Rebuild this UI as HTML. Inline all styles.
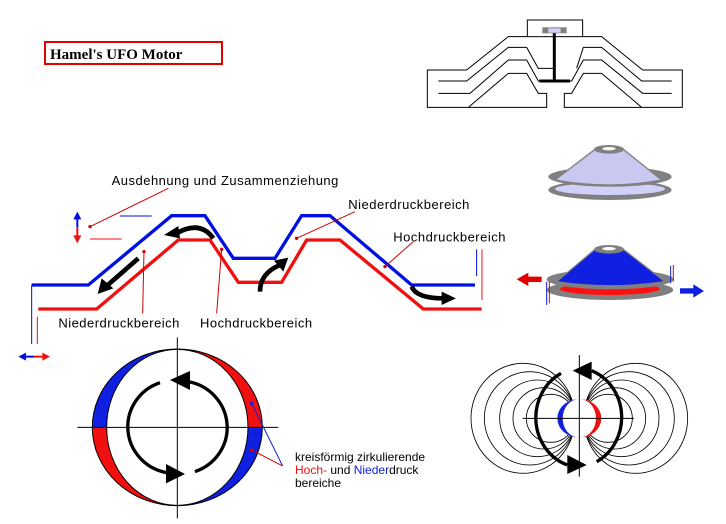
<!DOCTYPE html>
<html><head><meta charset="utf-8"><style>
html,body{margin:0;padding:0;background:#fff;}
svg{display:block;}
.t{font-family:"Liberation Sans",sans-serif;font-size:39px;letter-spacing:1.5px;fill:#000;}
.u{font-family:"Liberation Sans",sans-serif;font-size:12px;fill:#000;}
</style></head><body>
<svg width="726" height="524" viewBox="0 0 726 524" xmlns="http://www.w3.org/2000/svg">
<!-- title -->
<rect x="45" y="42" width="177" height="22" fill="none" stroke="#e00000" stroke-width="2"/>
<text x="50" y="59" font-family="'Liberation Serif',serif" font-weight="bold" font-size="15" fill="#000">Hamel's UFO Motor</text>

<!-- top right device -->
<g transform="translate(420,10) scale(0.3333)" fill="none" stroke="#000" stroke-width="3">
<rect x="322" y="30" width="166" height="50" fill="#fff"/>
<path d="M140,180 L22,180 L22,292 L380,292 L380,250 L355,250 L320,190 L265,190 L145,292"/>
<path d="M668,180 L787,180 L787,292 L433,292 L433,250 L455,250 L490,190 L545,190 L665,292"/>
<path d="M140,180 L265,80 L322,80 M488,80 L545,80 L668,180"/>
<path d="M55,213 L140,213 L265,112 L320,112 L355,175 L400,175 M470,175 L490,112 L545,112 L665,213 L755,213"/>
<path d="M55,250 L150,250 L265,150 L320,150 L355,213 L455,213 L490,150 L545,150 L668,250 L755,250"/>
<line x1="358" y1="213" x2="450" y2="213" stroke-width="9"/>
<line x1="403" y1="68" x2="403" y2="210" stroke-width="9"/>
<rect x="367" y="52" width="73" height="18" fill="#808080" stroke="none"/>
<rect x="385" y="55" width="37" height="13" fill="#d0d0f8" stroke="none"/>
</g>

<!-- saucers -->
<g transform="translate(420,10) scale(0.3333)">
<ellipse cx="570" cy="540" rx="185" ry="30" fill="#808080"/>
<ellipse cx="570" cy="537" rx="165" ry="18" fill="#d0d0f8"/>
<ellipse cx="570" cy="500" rx="185" ry="30" fill="#808080"/>
<path d="M525,418 L610,418 L725,510 Q570,540 405,510 Z" fill="#c8c8f0" stroke="#808080" stroke-width="4"/>
<ellipse cx="567" cy="418" rx="45" ry="13" fill="#808080"/>
<ellipse cx="567" cy="416" rx="20" ry="5" fill="#fff"/>

<ellipse cx="570" cy="840" rx="190" ry="30" fill="#808080"/>
<ellipse cx="570" cy="837" rx="150" ry="18" fill="#ff1010"/>
<ellipse cx="570" cy="808" rx="190" ry="30" fill="#808080"/>
<path d="M525,718 L610,718 L735,815 Q570,840 410,815 Z" fill="#1020e0" stroke="#808080" stroke-width="4"/>
<ellipse cx="567" cy="718" rx="45" ry="13" fill="#808080"/>
<ellipse cx="567" cy="716" rx="20" ry="5" fill="#fff"/>
<path d="M365,800 L325,800 L325,788 L290,808 L325,828 L325,816 L365,816 Z" fill="#e00000"/>
<path d="M780,835 L820,835 L820,823 L852,843 L820,863 L820,851 L780,851 Z" fill="#1020e0"/>
<line x1="380" y1="815" x2="380" y2="885" stroke="#1020e0" stroke-width="3"/>
<line x1="388" y1="815" x2="388" y2="880" stroke="#e00000" stroke-width="3"/>
<line x1="752" y1="768" x2="752" y2="820" stroke="#1020e0" stroke-width="3"/>
<line x1="760" y1="765" x2="760" y2="815" stroke="#e00000" stroke-width="3"/>
</g>

<!-- main wave diagram -->
<g transform="translate(0,170) scale(0.3333)" fill="none">
<polyline points="95,345 265,345 515,137 615,137 700,265 825,265 905,137 990,137 1235,345 1425,345" stroke="#0010e0" stroke-width="10"/>
<polyline points="115,417 290,417 535,210 630,210 715,337 845,337 920,210 1020,210 1270,417 1445,417" stroke="#f01010" stroke-width="10"/>
<line x1="95" y1="345" x2="95" y2="522" stroke="#0010e0" stroke-width="3"/>
<line x1="112" y1="440" x2="112" y2="522" stroke="#f01010" stroke-width="3"/>
<line x1="1430" y1="238" x2="1430" y2="318" stroke="#0010e0" stroke-width="3"/>
<line x1="1446" y1="238" x2="1446" y2="390" stroke="#f01010" stroke-width="3"/>
<line x1="360" y1="138" x2="455" y2="138" stroke="#0010e0" stroke-width="3"/>
<line x1="270" y1="207" x2="365" y2="207" stroke="#f01010" stroke-width="3"/>
<line x1="232" y1="140" x2="232" y2="172" stroke="#0010e0" stroke-width="6"/>
<path d="M220,148 L232,125 L244,148 Z" fill="#0010e0"/>
<line x1="232" y1="172" x2="232" y2="205" stroke="#f01010" stroke-width="6"/>
<path d="M220,196 L232,220 L244,196 Z" fill="#f01010"/>
<line x1="70" y1="560" x2="102" y2="560" stroke="#0010e0" stroke-width="6"/>
<path d="M78,548 L55,560 L78,572 Z" fill="#0010e0"/>
<line x1="102" y1="560" x2="135" y2="560" stroke="#f01010" stroke-width="6"/>
<path d="M127,548 L150,560 L127,572 Z" fill="#f01010"/>
<g stroke="#d00000" stroke-width="3">
<line x1="505" y1="55" x2="270" y2="170"/>
<line x1="1065" y1="125" x2="890" y2="205"/>
<line x1="1240" y1="215" x2="1155" y2="290"/>
<line x1="432" y1="245" x2="428" y2="430"/>
<line x1="665" y1="238" x2="650" y2="430"/>
</g>
<g fill="#d00000"><circle cx="270" cy="170" r="5"/><circle cx="890" cy="205" r="5"/><circle cx="1155" cy="290" r="5"/><circle cx="432" cy="245" r="5"/><circle cx="665" cy="238" r="5"/></g>
<g stroke="#000" stroke-width="14">
<path d="M640,205 Q600,150 530,190"/>
<line x1="415" y1="265" x2="320" y2="348"/>
<path d="M780,365 Q780,310 840,285"/>
<path d="M1235,350 Q1250,385 1330,385"/>
</g>
<g fill="#000">
<path d="M492,195 L535,168 L540,205 Z"/>
<path d="M293,372 L305,325 L340,355 Z"/>
<path d="M865,263 L822,272 L850,305 Z"/>
<path d="M1368,385 L1325,365 L1325,405 Z"/>
</g>
<text class="t" x="335" y="45">Ausdehnung und Zusammenziehung</text>
<text class="t" x="1045" y="117">Niederdruckbereich</text>
<text class="t" x="1180" y="215">Hochdruckbereich</text>
<text class="t" x="175" y="472">Niederdruckbereich</text>
<text class="t" x="600" y="472">Hochdruckbereich</text>
</g>

<!-- left rotating figure -->
<g transform="translate(60,330) scale(0.3333)">
<clipPath id="q1"><rect x="0" y="0" width="352" height="292"/></clipPath>
<clipPath id="q2"><rect x="352" y="0" width="400" height="292"/></clipPath>
<clipPath id="q3"><rect x="0" y="292" width="352" height="300"/></clipPath>
<clipPath id="q4"><rect x="352" y="292" width="400" height="300"/></clipPath>
<ellipse cx="352" cy="292" rx="255" ry="235" fill="#1020e0" clip-path="url(#q1)"/>
<ellipse cx="352" cy="292" rx="255" ry="235" fill="#f01010" clip-path="url(#q2)"/>
<ellipse cx="352" cy="292" rx="255" ry="235" fill="#f01010" clip-path="url(#q3)"/>
<ellipse cx="352" cy="292" rx="255" ry="235" fill="#1020e0" clip-path="url(#q4)"/>
<ellipse cx="352" cy="292" rx="255" ry="235" fill="none" stroke="#000" stroke-width="3"/>
<ellipse cx="352" cy="292" rx="212" ry="234" fill="#fff" stroke="#000" stroke-width="3"/>
<line x1="52" y1="292" x2="655" y2="292" stroke="#000" stroke-width="3"/>
<line x1="352" y1="22" x2="352" y2="565" stroke="#000" stroke-width="3"/>
<g fill="none" stroke="#000" stroke-width="10">
<path d="M300,158 A143,140 0 0 0 320,428"/>
<path d="M405,425 A143,140 0 0 0 385,155"/>
</g>
<path d="M330,150 L390,123 L390,180 Z" fill="#000"/>
<path d="M375,432 L318,402 L318,460 Z" fill="#000"/>
<line x1="575" y1="220" x2="668" y2="408" stroke="#1020e0" stroke-width="3"/>
<line x1="575" y1="360" x2="668" y2="408" stroke="#d00000" stroke-width="3"/>
<circle cx="575" cy="220" r="5" fill="#1020e0"/><circle cx="575" cy="360" r="5" fill="#d00000"/>
</g>
<text class="u" x="295" y="461">kreisförmig zirkulierende</text>
<text class="u" x="295" y="474"><tspan fill="#f01010">Hoch-</tspan> und <tspan fill="#1020e0">Nieder</tspan>druck</text>
<text class="u" x="295" y="487">bereiche</text>

<!-- field lines figure -->
<g transform="translate(460,340) scale(0.3333)">
<g fill="none" stroke="#000" stroke-width="2.5">
<ellipse cx="189" cy="235" rx="156" ry="165"/>
<ellipse cx="209" cy="235" rx="136" ry="140"/>
<ellipse cx="232" cy="235" rx="113" ry="115"/>
<ellipse cx="252" cy="235" rx="93" ry="92"/>
<ellipse cx="272" cy="235" rx="73" ry="72"/>
<ellipse cx="527" cy="235" rx="156" ry="165"/>
<ellipse cx="507" cy="235" rx="136" ry="140"/>
<ellipse cx="484" cy="235" rx="113" ry="115"/>
<ellipse cx="464" cy="235" rx="93" ry="92"/>
<ellipse cx="444" cy="235" rx="73" ry="72"/>
</g>
<ellipse cx="358" cy="235" rx="66" ry="58" fill="#fff"/>
<path d="M358,177 A66,58 0 0 0 358,293 A50,58 0 0 1 358,177 Z" fill="#1020e0"/>
<path d="M358,177 A66,58 0 0 1 358,293 A50,58 0 0 0 358,177 Z" fill="#f01010"/>
<line x1="188" y1="235" x2="522" y2="235" stroke="#000" stroke-width="3"/>
<line x1="358" y1="45" x2="358" y2="410" stroke="#000" stroke-width="3"/>
<g fill="none" stroke="#000" stroke-width="10">
<path d="M303,100 A140,150 0 0 0 322,375"/>
<path d="M410,365 A140,150 0 0 0 395,92"/>
</g>
<path d="M338,92 L395,65 L395,120 Z" fill="#000"/>
<path d="M380,375 L322,345 L322,402 Z" fill="#000"/>
</g>
</svg>
</body></html>
